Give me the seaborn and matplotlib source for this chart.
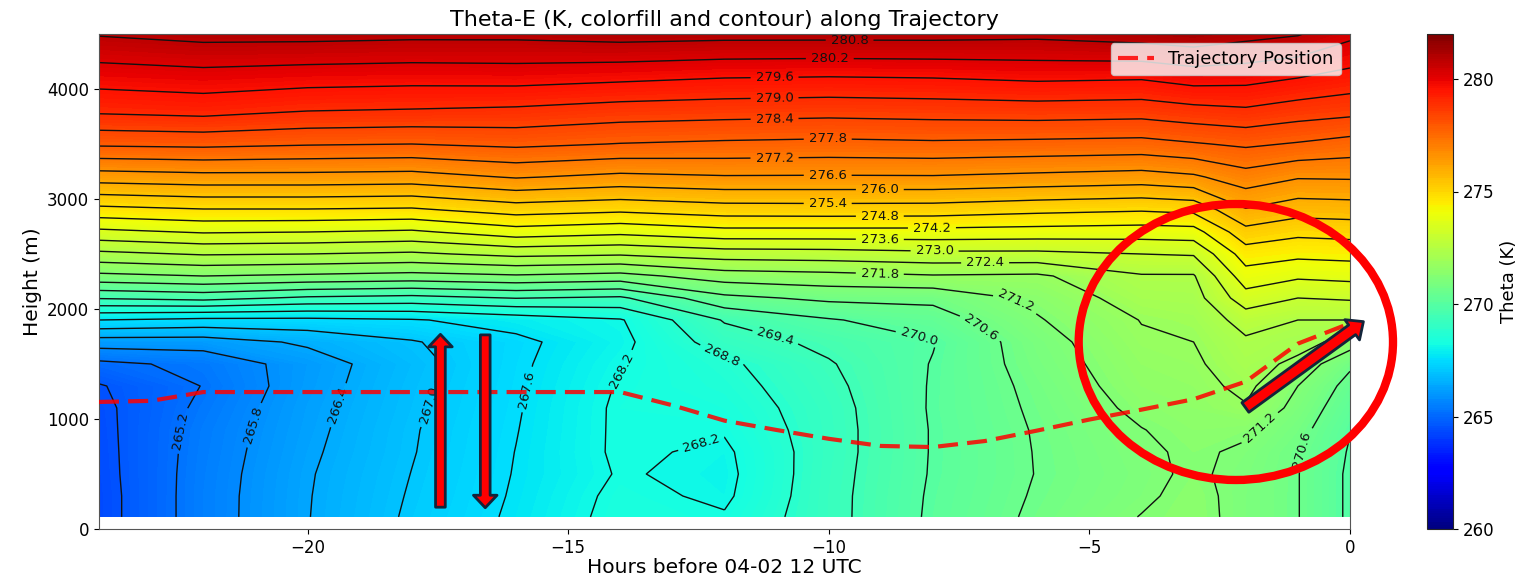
import numpy as np
import pandas as pd
import matplotlib
matplotlib.use("Agg")
import matplotlib.pyplot as plt
import seaborn as sns
from matplotlib.patches import Ellipse, FancyArrowPatch

# ---------------- data ----------------
hours = [-24, -22, -20, -18, -16, -14, -12, -10, -8, -6, -4, -3, -2, -1, 0]
heights = [110, 300, 500, 700, 900, 1100, 1300, 1500, 1700, 1900,
           2100, 2300, 2500, 2700, 2900, 3200, 3500, 3800, 4100, 4500]

# theta-E (K); one row per height, one value per hour above
theta_e = [
    [264.35, 265.50, 266.38, 267.09, 267.70, 268.40, 268.25, 269.20, 270.10, 270.71, 271.22, 271.40, 271.00, 270.62, 269.90],
    [264.35, 265.50, 266.37, 267.05, 267.66, 268.35, 268.10, 269.20, 270.08, 270.66, 271.10, 271.38, 271.00, 270.62, 269.90],
    [264.38, 265.48, 266.35, 267.01, 267.63, 268.25, 268.05, 269.18, 270.05, 270.62, 271.05, 271.30, 271.02, 270.62, 269.90],
    [264.40, 265.45, 266.30, 266.97, 267.61, 268.30, 268.10, 269.15, 270.04, 270.63, 271.10, 271.30, 271.10, 270.64, 269.95],
    [264.42, 265.42, 266.25, 266.95, 267.58, 268.30, 268.25, 269.15, 270.04, 270.65, 271.18, 271.40, 271.30, 270.80, 270.02],
    [264.45, 265.33, 266.21, 266.90, 267.55, 268.30, 268.40, 269.17, 270.06, 270.70, 271.35, 271.50, 271.75, 271.00, 270.20],
    [264.55, 265.22, 266.14, 266.86, 267.52, 268.25, 268.55, 269.25, 270.05, 270.76, 271.50, 271.60, 271.95, 271.20, 270.40],
    [265.05, 265.35, 266.10, 266.80, 267.49, 268.17, 268.68, 269.35, 270.03, 270.86, 271.60, 271.70, 272.15, 271.60, 270.70],
    [266.10, 266.10, 266.50, 266.95, 267.45, 268.05, 269.10, 269.55, 269.97, 270.94, 271.72, 271.80, 272.30, 272.10, 271.50],
    [267.60, 267.45, 267.45, 267.55, 267.85, 268.15, 269.45, 269.95, 270.30, 271.15, 271.82, 271.95, 272.65, 272.40, 272.40],
    [269.45, 269.60, 269.30, 269.20, 269.42, 269.30, 270.45, 270.73, 270.75, 271.35, 272.10, 272.15, 273.35, 273.00, 273.07],
    [271.05, 271.20, 271.10, 271.00, 271.13, 271.00, 271.50, 271.61, 271.75, 271.70, 272.35, 272.35, 273.95, 273.70, 273.78],
    [272.25, 272.45, 272.40, 272.30, 272.56, 272.47, 272.70, 272.74, 272.85, 272.85, 273.00, 273.05, 274.50, 274.35, 274.40],
    [273.45, 273.65, 273.60, 273.50, 273.92, 273.75, 274.00, 274.00, 274.00, 273.95, 273.90, 273.95, 275.20, 274.95, 275.01],
    [274.60, 274.75, 274.75, 274.70, 275.05, 274.91, 275.10, 275.12, 275.10, 274.95, 274.85, 274.95, 275.95, 275.65, 275.70],
    [276.30, 276.40, 276.40, 276.35, 276.65, 276.45, 276.55, 276.54, 276.55, 276.45, 276.35, 276.50, 276.95, 276.65, 276.67],
    [277.90, 277.95, 277.85, 277.80, 277.93, 277.78, 277.70, 277.65, 277.70, 277.65, 277.60, 277.75, 277.90, 277.75, 277.57],
    [279.10, 279.20, 279.00, 278.95, 278.88, 278.72, 278.65, 278.60, 278.65, 278.70, 278.65, 278.80, 278.90, 278.70, 278.58],
    [279.85, 279.95, 279.85, 279.80, 279.83, 279.72, 279.60, 279.56, 279.60, 279.70, 279.65, 279.85, 279.80, 279.60, 279.38],
    [280.85, 281.00, 281.00, 280.95, 280.95, 281.05, 281.00, 281.00, 281.00, 280.95, 281.10, 281.20, 281.00, 280.85, 280.35],
]

traj_hours = [-24, -23, -22, -21, -20, -19, -18, -17, -16, -15, -14, -13, -12,
              -11, -10, -9, -8, -7, -6, -5, -4, -3, -2, -1, 0]
traj_height = [1155, 1165, 1245, 1245, 1245, 1245, 1245, 1245, 1245, 1245, 1245,
               1125, 985, 900, 820, 755, 745, 800, 895, 995, 1085, 1180, 1340, 1685, 1870]

cbar_ticks = [260, 265, 270, 275, 280]
x_ticks = [-20, -15, -10, -5, 0]
y_ticks = [0, 1000, 2000, 3000, 4000]

# positions (hour, height) near which contour labels sit in the original
label_spots = [(-9.6, 4445), (-9.98, 4282), (-11.04, 4118), (-11.04, 3936),
               (-11.04, 3745), (-10.02, 3555), (-11.04, 3382), (-10.02, 3218),
               (-9.02, 3064), (-10.02, 2964), (-9.02, 2827), (-8.02, 2755),
               (-9.02, 2636), (-7.97, 2555), (-7.0, 2425), (-9.02, 2336),
               (-6.33, 2127), (-6.91, 1945), (-8.25, 1782), (-11.04, 1718),
               (-12.03, 1600), (-14.05, 1464), (-15.74, 1264), (-17.81, 1145),
               (-19.52, 1145), (-21.21, 973), (-22.55, 900), (-12.48, 827),
               (-1.73, 918), (-1.02, 745)]

# ---------------- drawing ----------------
sns.set_style("ticks")
plt.rcParams['font.family'] = ['DejaVu Sans']
plt.rcParams['text.color'] = 'black'
plt.rcParams['axes.labelcolor'] = 'black'
plt.rcParams['xtick.color'] = 'black'
plt.rcParams['ytick.color'] = 'black'

fig = plt.figure(figsize=(15.19, 5.84), dpi=100)
ax = fig.add_axes([99 / 1519, 55 / 584, 1251 / 1519, 495 / 584])
cax = fig.add_axes([1427 / 1519, 55 / 584, 26 / 1519, 495 / 584])

X, Y = np.meshgrid(hours, heights)
Z = np.array(theta_e)

fill_levels = np.linspace(260, 282, 221)
cf = ax.contourf(X, Y, Z, levels=fill_levels, cmap='jet', vmin=260, vmax=282)
line_levels = np.round(np.arange(264.0, 282.0, 0.6), 1)
cs = ax.contour(X, Y, Z, levels=line_levels, colors='#111111', linewidths=1.0)
ax.clabel(cs, fmt='%.1f', fontsize=9.5, inline=True, manual=label_spots)

traj = pd.DataFrame({'hour': traj_hours, 'height': traj_height})
sns.lineplot(data=traj, x='hour', y='height', ax=ax, color='red', alpha=0.85,
             linewidth=3, linestyle='--', label='Trajectory Position', zorder=4)
for ln in ax.get_lines():
    ln.set_dashes((4.8, 2.2))

# annotations
arrow_kw = dict(fc='red', ec='#13243a', lw=2, mutation_scale=1, clip_on=False, zorder=6)
ax.add_patch(FancyArrowPatch((-17.45, 173), (-17.45, 1795),
             arrowstyle='simple,head_width=17,head_length=9,tail_width=7', **arrow_kw))
ax.add_patch(FancyArrowPatch((-16.59, 1790), (-16.59, 168),
             arrowstyle='simple,head_width=17,head_length=9,tail_width=7', **arrow_kw))
ax.add_patch(FancyArrowPatch((-2.05, 1090), (0.3, 1900),
             arrowstyle='simple,head_width=18,head_length=10,tail_width=8.5', **arrow_kw))
ax.add_patch(Ellipse((-2.19, 1700), 6.03, 2509, fill=False, ec='red', lw=6,
                     clip_on=False, zorder=7))

ax.set_xlim(-24, 0)
ax.set_ylim(0, 4500)
ax.set_xticks(x_ticks)
ax.set_yticks(y_ticks)
ax.tick_params(labelsize=12)
ax.set_title('Theta-E (K, colorfill and contour) along Trajectory', fontsize=16)
ax.set_xlabel('Hours before 04-02 12 UTC', fontsize=14.5, labelpad=1)
ax.set_ylabel('Height (m)', fontsize=14.5)
ax.legend(loc='upper right', fontsize=13)
for s in ax.spines.values():
    s.set_color('#555555')

cb = fig.colorbar(cf, cax=cax, ticks=cbar_ticks)
cb.ax.tick_params(labelsize=12)
cb.set_label('Theta (K)', fontsize=13)

fig.savefig('out.png', dpi=100)
